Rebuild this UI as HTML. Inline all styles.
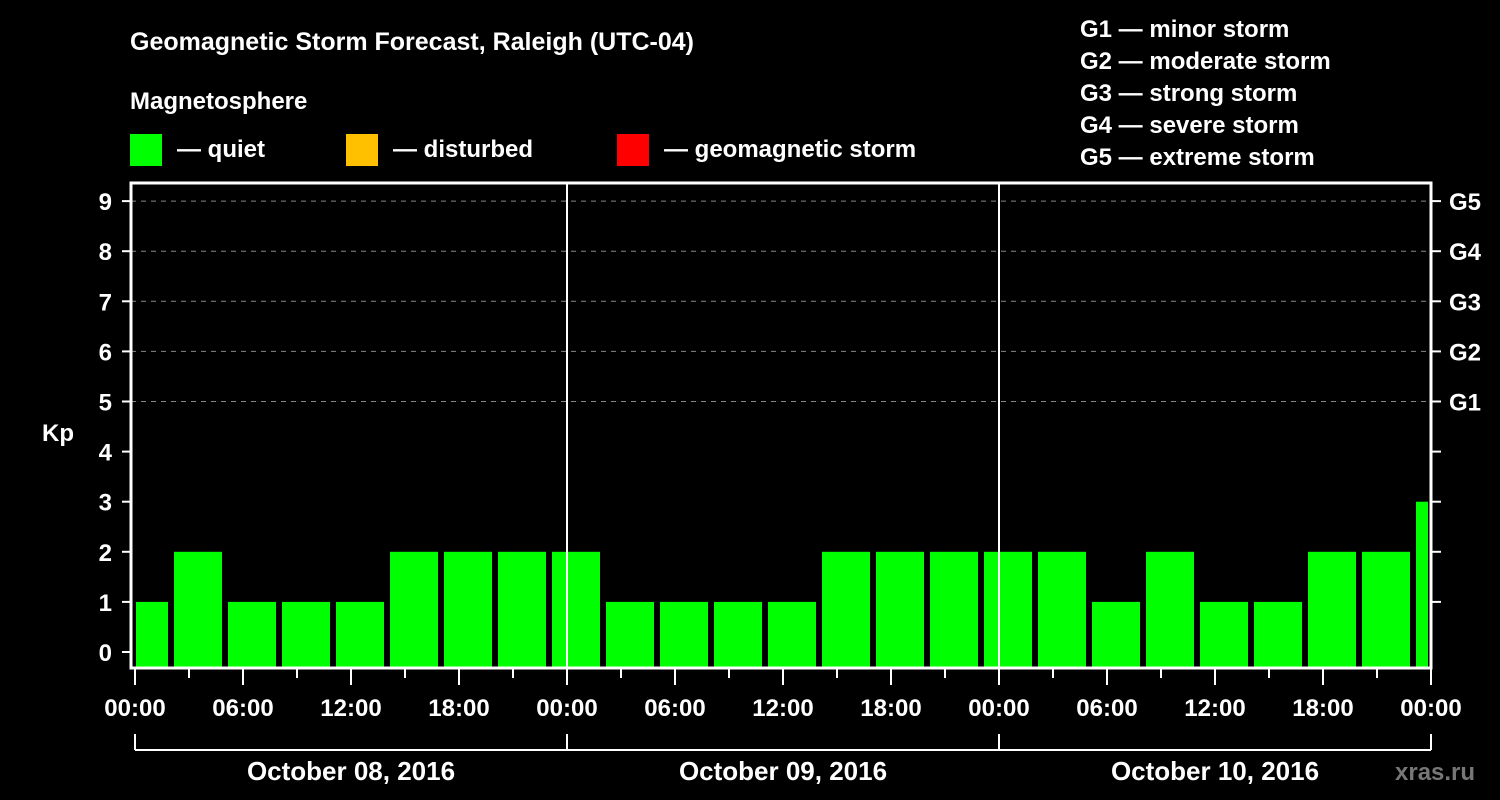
<!DOCTYPE html>
<html><head><meta charset="utf-8"><style>
body{margin:0;background:#000;width:1500px;height:800px;overflow:hidden}
svg{display:block;font-family:"Liberation Sans",sans-serif;font-weight:bold}
</style></head><body>
<svg id="c" width="1500" height="800">
<text x="130" y="50" fill="#fff" font-size="25">Geomagnetic Storm Forecast, Raleigh (UTC-04)</text>
<text x="130" y="109" fill="#fff" font-size="24">Magnetosphere</text>
<rect x="130" y="134" width="32" height="32" fill="#00ff00"/>
<text x="177" y="157" fill="#fff" font-size="24">— quiet</text>
<rect x="346" y="134" width="32" height="32" fill="#ffc000"/>
<text x="393" y="157" fill="#fff" font-size="24">— disturbed</text>
<rect x="617" y="134" width="32" height="32" fill="#ff0000"/>
<text x="664" y="157" fill="#fff" font-size="24">— geomagnetic storm</text>
<g fill="#fff" font-size="24">
<text x="1080" y="37">G1 — minor storm</text>
<text x="1080" y="69">G2 — moderate storm</text>
<text x="1080" y="101">G3 — strong storm</text>
<text x="1080" y="133">G4 — severe storm</text>
<text x="1080" y="165">G5 — extreme storm</text>
</g>
<text x="42" y="441" fill="#fff" font-size="24">Kp</text>
<text x="1395" y="780" fill="#777" font-size="24">xras.ru</text>
<g id="plot"></g>
</svg>
<script>
const values=[1,2,1,1,1,2,2,2,2,1,1,1,1,2,2,2,2,2,1,2,1,1,2,2,3];
const yTicks=[0,1,2,3,4,5,6,7,8,9];
const gLabels=["G1","G2","G3","G4","G5"];
const xLabels=["00:00","06:00","12:00","18:00"];
const dayLabels=["October 08, 2016","October 09, 2016","October 10, 2016"];
const NS="http://www.w3.org/2000/svg";
const g=document.getElementById('plot');
const L=131,R=1431,T=183,B=668,X0=135,PXH=18;
const y=v=>652-v*50.1;
const x=h=>X0+h*PXH;
function mk(t,a){const e=document.createElementNS(NS,t);for(const k in a)e.setAttribute(k,a[k]);g.appendChild(e);return e;}
// grid
yTicks.forEach(v=>{
 if(v>=5){const l=mk('line',{x1:L,x2:R,y1:y(v),y2:y(v),stroke:'#888','stroke-dasharray':'5,5','stroke-width':1});
 
 }
 const t=mk('line',{x1:122,x2:L,y1:y(v),y2:y(v),stroke:'#fff','stroke-width':2});
 
 
 const txt=mk('text',{x:112,y:y(v)+9,fill:'#fff','font-size':24,'text-anchor':'end'});txt.textContent=v;
 
 
 if(v>0){const rt=mk('line',{x1:R,x2:1441,y1:y(v),y2:y(v),stroke:'#fff','stroke-width':2});
 
 }
});
gLabels.forEach((s,i)=>{const t=mk('text',{x:1449,y:y(5+i)+9,fill:'#fff','font-size':24});t.textContent=s;
 
 });
// bars
const clip=document.createElementNS(NS,'clipPath');clip.id='cl';
const cr=document.createElementNS(NS,'rect');cr.setAttribute('x',136);cr.setAttribute('y',T);cr.setAttribute('width',1292);cr.setAttribute('height',B-T);clip.appendChild(cr);g.appendChild(clip);
values.forEach((v,i)=>{const c=x(0.5+3*i);
 const b=mk('rect',{x:c-24,y:y(v),width:48,height:B-y(v),fill:'#00ff00','clip-path':'url(#cl)'});
 
 });
// day lines
[1,2].forEach(d=>{const l=mk('line',{x1:x(24*d),x2:x(24*d),y1:T,y2:B,stroke:'#fff','stroke-width':2});
 
 });
// frame
const f=mk('rect',{x:L,y:T,width:R-L,height:B-T,fill:'none',stroke:'#fff','stroke-width':3});


// x ticks
for(let h=0;h<=72;h+=3){const major=h%6==0;
 const t=mk('line',{x1:x(h),x2:x(h),y1:B,y2:major?685:678,stroke:'#fff','stroke-width':2});
 
 
 if(major){const tx=mk('text',{x:x(h),y:716,fill:'#fff','font-size':24,'text-anchor':'middle'});
 tx.textContent=xLabels[(h/6)%4];
 
 }}
// day bracket
const bl=mk('line',{x1:x(0),x2:x(72),y1:750,y2:750,stroke:'#fff','stroke-width':2});


[0,1,2,3].forEach(d=>{const l=mk('line',{x1:x(24*d),x2:x(24*d),y1:734,y2:750,stroke:'#fff','stroke-width':2});
 
 });
dayLabels.forEach((s,d)=>{const t=mk('text',{x:x(24*d+12),y:780,fill:'#fff','font-size':26,'text-anchor':'middle'});t.textContent=s;
 
 });
</script>
</body></html>
